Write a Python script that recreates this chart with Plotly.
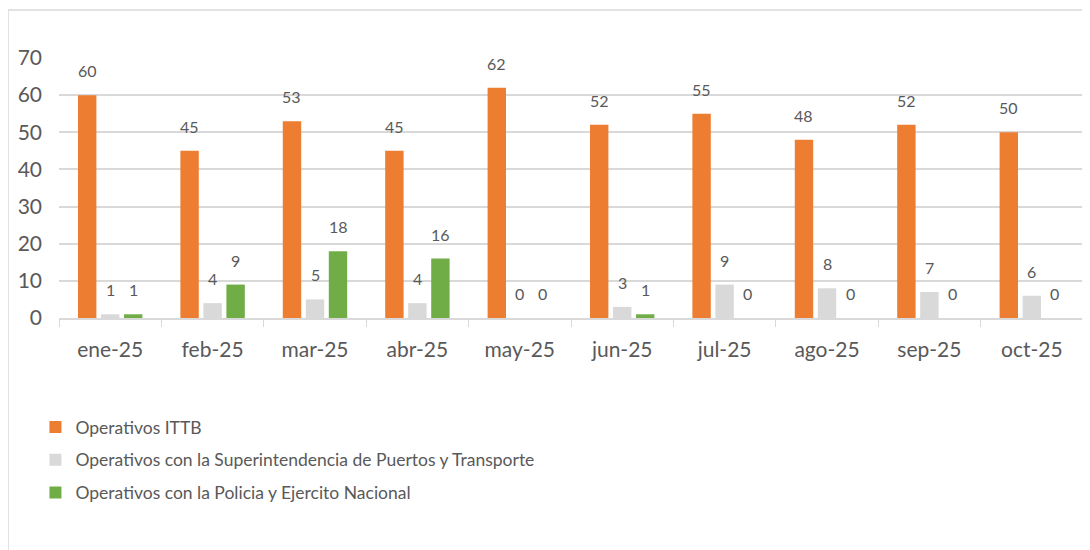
import plotly.graph_objects as go

months = ["ene-25", "feb-25", "mar-25", "abr-25", "may-25",
          "jun-25", "jul-25", "ago-25", "sep-25", "oct-25"]
ittb = [60, 45, 53, 45, 62, 52, 55, 48, 52, 50]
superintendencia = [1, 4, 5, 4, 0, 3, 9, 8, 7, 6]
policia = [1, 9, 18, 16, 0, 1, 0, 0, 0, 0]

series = [
    ("Operativos ITTB", ittb, "#ED7D31"),
    ("Operativos con la Superintendencia de Puertos y Transporte", superintendencia, "#D9D9D9"),
    ("Operativos con la Policia y Ejercito Nacional", policia, "#70AD47"),
]

FONT = "Lato, 'Open Sans', sans-serif"
TXT = "#595959"

# page body has an 8px margin, so the figure is drawn at (8, 8)
W, H = 1082, 542
ML, MR, MT, MB = 51, 7, 50, 232
BARGAP, GROUPGAP = 0.326, 0.2
plot_w = W - ML - MR
slot = plot_w / len(months) * (1 - BARGAP) / len(series)

fig = go.Figure()
for i, (name, vals, color) in enumerate(series):
    fig.add_trace(go.Bar(
        x=months, y=vals, name=name,
        marker=dict(color=color, line=dict(width=0)),
        legendgroup=f"g{i}",
    ))
    # data labels sit a bit above each bar, like the Excel original
    for m, v in zip(months, vals):
        fig.add_annotation(
            x=m, y=v, text=str(v), showarrow=False,
            xshift=(i - 1) * slot, yshift=13, yanchor="bottom",
            font=dict(size=16, color=TXT, family=FONT),
        )

# outer chart border
plot_h = H - MT - MB
fig.add_shape(type="rect", xref="paper", yref="paper",
              x0=-(ML) / plot_w, x1=(plot_w + 20) / plot_w,
              y0=-1.0, y1=(plot_h + MT - 2) / plot_h,
              line=dict(color="#D9D9D9", width=1.5), layer="below")

fig.update_layout(
    width=W, height=H,
    margin=dict(l=ML, r=MR, t=MT, b=MB),
    paper_bgcolor="white", plot_bgcolor="white",
    barmode="group", bargap=BARGAP, bargroupgap=GROUPGAP,
    font=dict(family=FONT, color=TXT),
    legend=dict(
        orientation="v", x=-0.023, xanchor="left", y=-0.35, yanchor="top",
        font=dict(size=17.5, color=TXT, family=FONT),
        tracegroupgap=7, itemwidth=30,
    ),
)
fig.update_xaxes(
    showline=True, linecolor="#D9D9D9", linewidth=1.5,
    ticks="outside", tickson="boundaries", ticklen=7, tickcolor="#D9D9D9",
    tickfont=dict(size=21, color=TXT, family=FONT),
    ticklabelstandoff=12,
    showgrid=False,
)
fig.update_yaxes(
    range=[0, 70], dtick=10,
    showgrid=True, gridcolor="#D9D9D9", gridwidth=1.5,
    zeroline=False, showline=False,
    tickfont=dict(size=21, color=TXT, family=FONT),
    ticklabelstandoff=16,
)

fig.write_html("out.html")
